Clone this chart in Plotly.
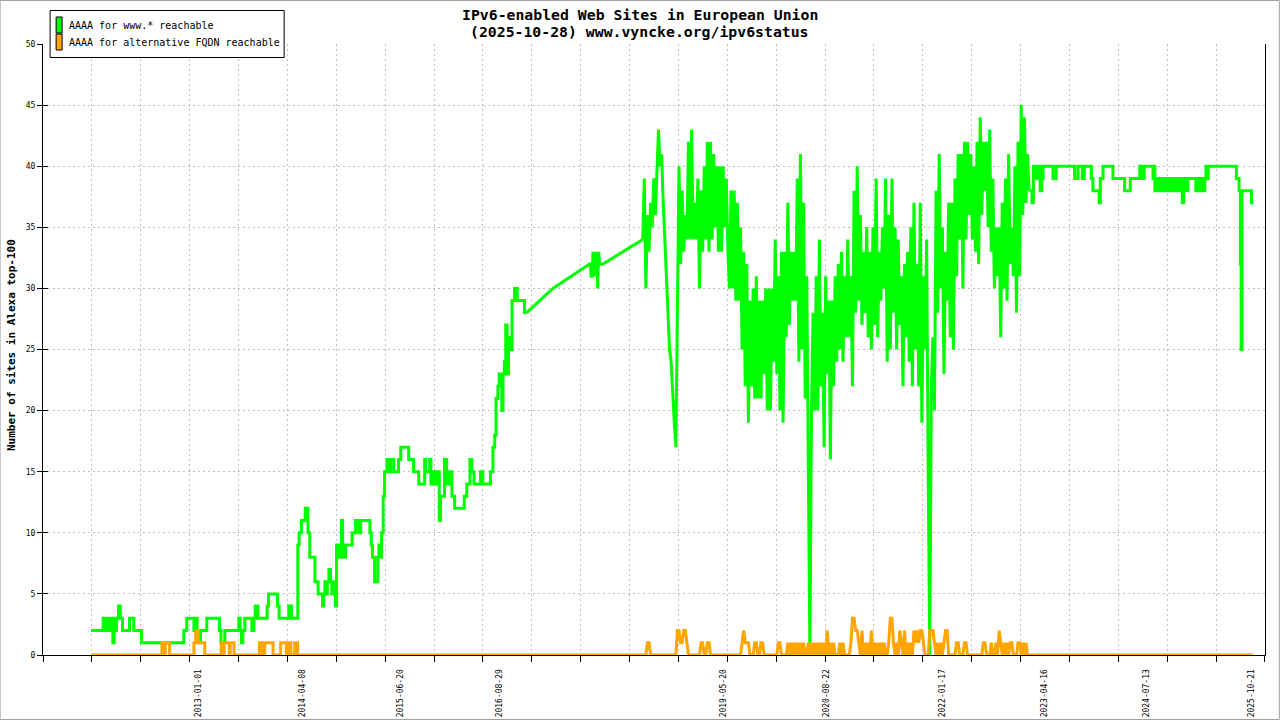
import pandas as pd
import plotly.graph_objects as go

# ---------------- texts ----------------
TITLE_LINES = ["IPv6-enabled Web Sites in European Union",
               "(2025-10-28) www.vyncke.org/ipv6status"]
Y_TITLE = "Number of sites in Alexa top-100"
LEGEND_LABELS = ["AAAA for www.* reachable", "AAAA for alternative FQDN reachable"]
X_TICK_LABELS = ["2013-01-01", "2014-04-08", "2015-06-20", "2016-08-29", "2019-05-20",
                 "2020-08-22", "2022-01-17", "2023-04-16", "2024-07-13", "2025-10-21"]
Y_TICKS = [0, 5, 10, 15, 20, 25, 30, 35, 40, 45, 50]

# ---------------- series: AAAA for www.* reachable ----------------
# early period (step data, value holds until next date)
WWW_EARLY_DATES = [
    "2011-09-15", "2011-11-07", "2011-11-20", "2011-11-24", "2011-11-28", "2011-12-02", "2011-12-08", "2011-12-12", "2011-12-20", "2011-12-26",
    "2011-12-30", "2012-01-05", "2012-01-14", "2012-01-22", "2012-02-01", "2012-03-03", "2012-03-22", "2012-04-25", "2012-10-30", "2012-11-12",
    "2012-12-14", "2012-12-22", "2012-12-28", "2013-01-06", "2013-01-12", "2013-02-09", "2013-04-06", "2013-04-13", "2013-04-30", "2013-07-01",
    "2013-07-07", "2013-07-13", "2013-07-19", "2013-07-28", "2013-08-28", "2013-09-06", "2013-09-12", "2013-09-24", "2013-11-04", "2013-11-10",
    "2013-12-20", "2013-12-27", "2014-02-08", "2014-02-20", "2014-03-20", "2014-03-26", "2014-04-05", "2014-04-22", "2014-05-04", "2014-05-12",
    "2014-06-04", "2014-06-18", "2014-07-08", "2014-07-13", "2014-07-18", "2014-07-24", "2014-07-29", "2014-08-05", "2014-08-12", "2014-08-18",
    "2014-08-26", "2014-09-03", "2014-09-08", "2014-09-14", "2014-09-22", "2014-09-30", "2014-10-05", "2014-10-18", "2014-11-16", "2014-12-01",
    "2014-12-15", "2014-12-24", "2015-02-03", "2015-02-09", "2015-02-14", "2015-02-24", "2015-03-10", "2015-03-15", "2015-03-22", "2015-03-27",
    "2015-04-03", "2015-04-09", "2015-04-20", "2015-04-29", "2015-05-06", "2015-05-20", "2015-06-10", "2015-06-20", "2015-07-25", "2015-08-16",
    "2015-09-08", "2015-10-04", "2015-10-09", "2015-10-26", "2015-11-01", "2015-11-10", "2015-11-18", "2015-11-28", "2015-12-08", "2015-12-13",
    "2015-12-31", "2016-01-10", "2016-01-22", "2016-02-02", "2016-02-14", "2016-03-28", "2016-04-08", "2016-04-22", "2016-04-30", "2016-05-10",
    "2016-06-08", "2016-06-18", "2016-07-22", "2016-08-02", "2016-08-10", "2016-08-16", "2016-08-24", "2016-08-30", "2016-09-10", "2016-09-16",
    "2016-09-22", "2016-09-28", "2016-10-04", "2016-10-10", "2016-10-18", "2016-10-26", "2016-11-06", "2016-11-18", "2016-12-20", "2016-12-29"]
WWW_EARLY_VALUES = [
    2, 3, 2, 3, 2, 3, 2, 3, 1, 3,
    2, 3, 4, 3, 2, 3, 2, 1, 2, 3,
    2, 3, 2, 1, 2, 3, 2, 1, 2, 3,
    2, 1, 2, 3, 2, 3, 4, 3, 4, 5,
    4, 3, 4, 3, 9, 10, 11, 12, 10, 8,
    6, 5, 4, 5, 6, 5, 6, 7, 6, 5,
    6, 4, 9, 8, 9, 11, 8, 9, 10, 11,
    10, 11, 10, 9, 8, 6, 8, 9, 8, 10,
    13, 15, 16, 15, 16, 15, 16, 17, 16, 15,
    14, 16, 15, 16, 14, 15, 14, 15, 11, 13,
    16, 14, 15, 13, 12, 13, 14, 16, 15, 14,
    15, 14, 15, 17, 18, 21, 22, 23, 20, 23,
    24, 27, 23, 26, 25, 29, 30, 29, 28, 28]

# sparse period (few measurements, joined by straight lines)
WWW_GAP_DATES = ["2016-12-29", "2017-04-25", "2017-10-05", "2017-10-09", "2017-10-12", "2017-10-17", "2017-10-20", "2017-10-24",
                 "2017-10-30", "2017-11-03", "2017-11-07", "2017-11-10", "2017-11-14", "2017-11-19", "2017-12-04", "2018-05-29"]
WWW_GAP_VALUES = [28, 30, 32, 32, 31, 31, 33, 31, 33, 31, 33, 30, 33, 32, 32, 34]

# busy period, one reading per week starting at DENSE_START
DENSE_START = "2018-05-29"
DENSE_STEP_DAYS = 7
WWW_DENSE_VALUES = [
    34, 39, 30, 36, 33, 37, 35, 39, 36, 40,
    43, 40, 41, 37, 34, 30, 28, 25, 24, 21,
    19, 17, 30, 40, 32, 38, 33, 36, 34, 42,
    34, 43, 34, 37, 34, 39, 30, 38, 33, 40,
    34, 42, 33, 42, 34, 41, 35, 40, 33, 40,
    33, 40, 35, 39, 33, 30, 38, 30, 38, 29,
    37, 29, 35, 25, 33, 22, 32, 19, 29, 22,
    30, 21, 31, 21, 29, 21, 29, 23, 30, 20,
    30, 20, 30, 24, 34, 23, 31, 20, 33, 19,
    33, 26, 37, 27, 33, 29, 33, 29, 39, 24,
    41, 25, 37, 21, 31, 13, 0, 20, 28, 20,
    31, 20, 34, 22, 28, 17, 31, 23, 29, 16,
    29, 22, 31, 24, 32, 25, 33, 24, 31, 26,
    34, 26, 31, 22, 38, 28, 40, 29, 36, 27,
    33, 28, 35, 26, 33, 25, 35, 27, 39, 26,
    33, 29, 35, 30, 39, 24, 36, 25, 39, 28,
    35, 25, 34, 27, 31, 22, 32, 26, 33, 24,
    35, 22, 37, 25, 32, 22, 37, 19, 31, 25,
    34, 15, 0, 22, 26, 20, 38, 28, 41, 30,
    35, 23, 33, 29, 37, 26, 37, 25, 39, 31,
    41, 34, 41, 30, 42, 34, 42, 36, 41, 34,
    40, 33, 42, 32, 44, 36, 42, 38, 42, 35,
    43, 33, 39, 30, 35, 31, 35, 26, 37, 30,
    39, 29, 41, 32, 35, 31, 40, 28, 42, 31,
    45, 36, 44, 37, 41, 38]

# recent period (step data)
WWW_LATE_DATES = [
    "2023-02-07", "2023-02-20", "2023-02-26", "2023-03-01", "2023-03-04", "2023-03-08", "2023-03-12", "2023-03-18", "2023-03-22", "2023-03-28",
    "2023-04-04", "2023-04-10", "2023-05-24", "2023-06-07", "2023-08-28", "2023-09-12", "2023-10-01", "2023-10-10", "2023-11-10", "2023-11-17",
    "2023-12-15", "2023-12-20", "2024-01-01", "2024-02-14", "2024-04-06", "2024-05-01", "2024-06-12", "2024-06-17", "2024-06-22", "2024-06-27",
    "2024-07-02", "2024-08-10", "2024-08-14", "2024-08-18", "2024-08-24", "2024-09-01", "2024-09-05", "2024-09-10", "2024-09-14", "2024-09-19",
    "2024-09-23", "2024-09-28", "2024-10-02", "2024-10-07", "2024-10-11", "2024-10-16", "2024-10-20", "2024-10-25", "2024-10-29", "2024-11-03",
    "2024-11-07", "2024-11-12", "2024-11-16", "2024-11-21", "2024-11-25", "2024-11-30", "2024-12-04", "2024-12-09", "2024-12-13", "2024-12-18",
    "2024-12-24", "2024-12-30", "2025-01-04", "2025-01-12", "2025-02-16", "2025-02-21", "2025-02-27", "2025-03-05", "2025-03-10", "2025-03-16",
    "2025-03-22", "2025-03-28", "2025-04-02", "2025-04-07", "2025-04-12", "2025-08-15", "2025-08-27", "2025-09-02", "2025-09-05", "2025-09-09",
    "2025-10-21", "2025-10-28"]
WWW_LATE_VALUES = [
    38, 37, 40, 39, 40, 39, 40, 39, 40, 38,
    39, 40, 39, 40, 39, 40, 39, 40, 39, 38,
    37, 39, 40, 39, 38, 39, 40, 39, 40, 39,
    40, 39, 40, 38, 39, 38, 39, 38, 39, 38,
    39, 38, 39, 38, 39, 38, 39, 38, 39, 38,
    39, 38, 39, 38, 39, 38, 39, 38, 39, 37,
    38, 39, 38, 39, 38, 39, 38, 39, 38, 39,
    38, 39, 40, 39, 40, 39, 38, 32, 25, 38,
    37, 37]

# ---------------- series: AAAA for alternative FQDN reachable ----------------
ALT_EARLY_DATES = [
    "2011-09-15", "2012-07-25", "2012-08-06", "2012-08-09", "2012-08-28", "2012-12-14", "2012-12-22", "2013-01-02", "2013-01-31", "2013-04-14",
    "2013-04-24", "2013-04-27", "2013-05-20", "2013-05-24", "2013-06-10", "2013-10-01", "2013-10-08", "2013-10-12", "2013-10-20", "2013-10-24",
    "2013-11-30", "2014-01-03", "2014-01-28", "2014-02-07", "2014-02-17", "2014-03-06", "2014-03-19", "2018-05-29"]
ALT_EARLY_VALUES = [
    0, 1, 0, 1, 0, 1, 2, 1, 0, 1,
    0, 1, 0, 1, 0, 1, 0, 1, 0, 1,
    0, 1, 0, 1, 0, 1, 0, 0]
ALT_DENSE_VALUES = [
    0, 0, 0, 1, 1, 0, 0, 0, 0, 0,
    0, 0, 0, 0, 0, 0, 0, 0, 0, 0,
    0, 0, 2, 2, 1, 1, 2, 2, 1, 0,
    0, 0, 0, 0, 0, 0, 0, 1, 1, 0,
    0, 1, 1, 0, 0, 0, 0, 0, 0, 0,
    0, 0, 0, 0, 0, 0, 0, 0, 0, 0,
    0, 0, 0, 1, 2, 1, 1, 1, 0, 0,
    0, 1, 1, 0, 0, 1, 1, 0, 0, 0,
    0, 0, 0, 0, 0, 0, 1, 1, 0, 0,
    0, 0, 1, 0, 1, 0, 1, 0, 1, 0,
    1, 0, 1, 0, 0, 1, 0, 1, 0, 1,
    0, 1, 0, 1, 0, 1, 0, 2, 0, 1,
    0, 1, 0, 0, 0, 1, 0, 1, 0, 0,
    0, 0, 1, 3, 3, 2, 2, 1, 0, 2,
    0, 1, 0, 1, 0, 2, 0, 1, 0, 1,
    0, 1, 0, 1, 0, 0, 1, 3, 3, 1,
    0, 1, 0, 2, 1, 0, 2, 0, 1, 0,
    1, 0, 2, 1, 2, 1, 2, 2, 1, 0,
    0, 0, 2, 2, 2, 1, 0, 1, 0, 1,
    0, 1, 2, 2, 0, 0, 0, 0, 0, 1,
    1, 0, 0, 0, 1, 1, 0, 0, 0, 0,
    0, 0, 0, 0, 0, 0, 1, 1, 0, 0,
    0, 1, 0, 0, 1, 0, 2, 1, 0, 1,
    0, 1, 0, 1, 1, 0, 0, 0, 1, 1,
    0, 1, 0, 1, 0, 0]
ALT_LATE_DATES = ["2023-02-07", "2025-10-28"]
ALT_LATE_VALUES = [0, 0]

assert len(WWW_EARLY_DATES) == len(WWW_EARLY_VALUES)
assert len(WWW_GAP_DATES) == len(WWW_GAP_VALUES)
assert len(WWW_LATE_DATES) == len(WWW_LATE_VALUES)
assert len(ALT_EARLY_DATES) == len(ALT_EARLY_VALUES)
assert len(ALT_DENSE_VALUES) == len(WWW_DENSE_VALUES)

# ---------------- layout constants ----------------
W, H = 1280, 720
PLOT_L, PLOT_R, PLOT_T, PLOT_B = 43.4, 1265.2, 44.0, 655.0
PLOT_W = PLOT_R - PLOT_L
PLOT_H = PLOT_B - PLOT_T
X_START, X_END = "2011-02-13", "2025-12-20"
TICK_DAYS = 216.94
FONT = "DejaVu Sans Mono"
GREEN = "#00ff00"
ORANGE = "#ffa500"
GRID = "#c0c0c0"
DASH = "2px,3px"


def px(xp):
    return (xp - PLOT_L) / PLOT_W


def py(yp):
    return (PLOT_B - yp) / PLOT_H


dense_dates = list(pd.date_range(DENSE_START, periods=len(WWW_DENSE_VALUES), freq=f"{DENSE_STEP_DAYS}D"))

fig = go.Figure()

www_segments = [(WWW_EARLY_DATES, WWW_EARLY_VALUES, "hv"),
                (WWW_GAP_DATES, WWW_GAP_VALUES, "linear"),
                (dense_dates, WWW_DENSE_VALUES, "linear"),
                (WWW_LATE_DATES, WWW_LATE_VALUES, "hv")]
alt_segments = [(ALT_EARLY_DATES, ALT_EARLY_VALUES, "hv"),
                (dense_dates, ALT_DENSE_VALUES, "linear"),
                (ALT_LATE_DATES, ALT_LATE_VALUES, "hv")]

for segs, color in ((www_segments, GREEN), (alt_segments, ORANGE)):
    for d, v, shape in segs:
        fig.add_trace(go.Scatter(x=d, y=v, mode="lines",
                                 line=dict(color=color, width=3, shape=shape),
                                 showlegend=False, hoverinfo="skip"))

# helper trace for the inner half of the y ticks
fig.add_trace(go.Scatter(x=[None], y=[None], yaxis="y2", showlegend=False, hoverinfo="skip"))

fig.update_layout(
    width=W, height=H, autosize=False,
    margin=dict(l=PLOT_L, r=W - PLOT_R, t=PLOT_T, b=H - PLOT_B, pad=0, autoexpand=False),
    paper_bgcolor="white", plot_bgcolor="white", showlegend=False,
    font=dict(family=FONT, color="black", size=10),
    xaxis=dict(type="date", range=[X_START, X_END], automargin=False,
               tickmode="array", tickvals=X_TICK_LABELS, ticktext=X_TICK_LABELS,
               tickangle=-90, ticks="", showgrid=False, zeroline=False,
               showline=True, linecolor="black", linewidth=1,
               tickfont=dict(family=FONT, size=8, color="black"), ticklabelstandoff=10,
               minor=dict(tickmode="linear", tick0=X_START, dtick=TICK_DAYS * 86400000,
                          ticks="outside", ticklen=6, tickcolor="black", tickwidth=1,
                          showgrid=True, gridcolor=GRID, griddash=DASH, gridwidth=1)),
    yaxis=dict(range=[0, 50], automargin=False, tickmode="array", tickvals=Y_TICKS,
               ticktext=[str(t) for t in Y_TICKS],
               ticks="outside", ticklen=5, tickcolor="black", tickwidth=1,
               showgrid=True, gridcolor=GRID, griddash=DASH, gridwidth=1, zeroline=False,
               showline=True, mirror=True, linecolor="black", linewidth=1,
               tickfont=dict(family=FONT, size=8, color="black")),
    yaxis2=dict(range=[0, 50], overlaying="y", side="left", automargin=False, tickmode="array",
                tickvals=Y_TICKS, ticks="inside", ticklen=5, tickcolor="black", showticklabels=False,
                showgrid=False, zeroline=False, showline=False),
)

shapes = [
    # canvas frame
    dict(type="rect", xref="paper", yref="paper", x0=px(0.5), x1=px(W - 0.5), y0=py(H - 0.5), y1=py(0.5),
         line=dict(color="#a0a0a0", width=1), fillcolor="rgba(0,0,0,0)", layer="above"),
    # legend box
    dict(type="rect", xref="paper", yref="paper", x0=px(50.5), x1=px(284.5), y0=py(57.5), y1=py(10.5),
         line=dict(color="black", width=1), fillcolor="white", layer="above"),
    dict(type="rect", xref="paper", yref="paper", x0=px(56.5), x1=px(62.5), y0=py(33), y1=py(17),
         line=dict(color="black", width=1), fillcolor=GREEN, layer="above"),
    dict(type="rect", xref="paper", yref="paper", x0=px(56.5), x1=px(62.5), y0=py(50), y1=py(34),
         line=dict(color="black", width=1), fillcolor=ORANGE, layer="above"),
]

annotations = [
    dict(text="<b>" + TITLE_LINES[0] + "</b>", x=px(640), y=py(14), xref="paper", yref="paper",
         xanchor="center", yanchor="middle", showarrow=False, font=dict(family=FONT, size=14.8, color="black")),
    dict(text="<b>" + TITLE_LINES[1] + "</b>", x=px(640), y=py(32), xref="paper", yref="paper",
         xanchor="center", yanchor="middle", showarrow=False, font=dict(family=FONT, size=14.8, color="black")),
    dict(text="<b>" + Y_TITLE + "</b>", x=px(12), y=py(345.5), xref="paper", yref="paper", textangle=-90,
         xanchor="center", yanchor="middle", showarrow=False, font=dict(family=FONT, size=11, color="black")),
    dict(text=LEGEND_LABELS[0], x=px(67.5), y=py(26), xref="paper", yref="paper",
         xanchor="left", yanchor="middle", showarrow=False, font=dict(family=FONT, size=10, color="black")),
    dict(text=LEGEND_LABELS[1], x=px(67.5), y=py(43), xref="paper", yref="paper",
         xanchor="left", yanchor="middle", showarrow=False, font=dict(family=FONT, size=10, color="black")),
]

fig.update_layout(shapes=shapes, annotations=annotations)

fig.write_html("out.html", config={"displayModeBar": False},
               post_script="document.body.style.margin='0px';")
